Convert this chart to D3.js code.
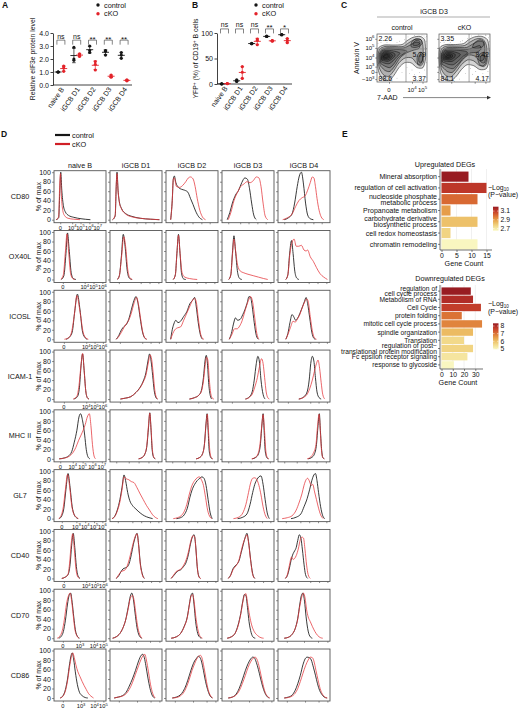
<!DOCTYPE html>
<html>
<head>
<meta charset="utf-8">
<script src="https://cdn.jsdelivr.net/npm/d3@7"></script>
<style>
body { margin: 0; background: #fff; }
text { font-family: "Liberation Sans", Arial, sans-serif; fill: #111; }
</style>
</head>
<body>
<svg id="fig" width="520" height="708"></svg>
<script>
// ---------- data ----------
var groups = ["naive B", "iGCB D1", "iGCB D2", "iGCB D3", "iGCB D4"]
var series = ["control", "cKO"]

// A: relative eIF3e protein level (3 mice per group)
var eif3eControl = [[1.0, 1.0, 1.0], [2.9, 2.0, 1.9], [3.0, 2.65, 2.5], [2.65, 2.6, 2.3], [2.5, 2.3, 2.05]]
var eif3eCKO = [[1.45, 1.3, 1.05], [2.4, 2.3, 2.2], [1.8, 1.6, 1.15], [0.77, 0.65, 0.6], [0.4, 0.35, 0.32]]
var eif3eSig = ["ns", "ns", "**", "**", "**"]

// B: YFP+ (%) of CD19+ B cells
var yfpControl = [[0.5, 0.3, 0], [8, 6, 5], [80, 79, 79], [94, 93, 93], [97, 96, 97]]
var yfpCKO = [[1, 0.5, 1], [34, 23, 11], [88, 86, 77], [85, 84, 85], [89, 85, 81]]
var yfpSig = ["ns", "ns", "ns", "**", "*"]

// C: iGCB D3 Annexin V / 7-AAD contour plots (axis channel units 0-100)
var annexTickPos = [90, 71, 51, 32, 21, 6]
var annexTickLabels = ["10^6", "10^5", "10^4", "10^3", "0", "−10^3"]
var aadTickPos = [24, 70, 91]
var aadTickLabels = ["0", "10^4", "10^5"]
var ctrlQuad = ["2.26", "5.79", "88.6", "3.37"]
var ckoQuad = ["3.35", "8.42", "84.1", "4.17"]
var ctrlGate = [58, 69]
var ckoGate = [59, 69]
var ctrlRings = [
  [[2,28],[0,50],[2,70],[14,77],[32,77],[50,78],[60,86],[72,93],[86,95],[95,88],[97,70],[97,48],[92,30],[80,30],[68,40],[55,40],[44,30],[34,14],[25,4],[14,4],[6,14]],
  [[4,32],[2,52],[5,68],[16,74],[34,74],[52,74],[64,82],[76,89],[88,88],[92,74],[92,52],[88,38],[80,38],[70,50],[56,50],[44,40],[34,24],[24,12],[14,14],[8,22]],
  [[6,36],[4,54],[8,66],[18,71],[36,71],[54,71],[66,77],[78,83],[86,80],[84,70],[72,66],[58,60],[46,50],[36,34],[26,22],[16,24],[10,30]],
  [[7,40],[6,56],[10,65],[20,69],[36,68],[52,67],[60,64],[52,58],[42,50],[34,38],[26,30],[18,32],[11,36]],
  [[8,43],[8,57],[12,64],[22,66],[36,64],[46,60],[40,53],[32,44],[24,38],[16,39],[11,41]],
  [[9,46],[10,58],[15,63],[24,63],[34,60],[36,55],[30,48],[22,43],[15,44]],
  [[10,48],[12,58],[17,61],[25,60],[31,56],[28,50],[21,46],[14,47]],
  [[12,50],[14,57],[19,59],[25,57],[26,52],[20,49],[15,49]],
  [[13,52],[16,56],[21,57],[23,53],[18,51]],
  [[68,74],[70,84],[78,90],[88,88],[90,80],[84,74],[76,72]],
  [[72,77],[74,84],[80,87],[86,84],[84,78],[78,76]],
  [[82,36],[80,48],[82,58],[88,62],[93,56],[93,42],[88,34]],
  [[84,42],[84,54],[88,58],[91,52],[90,42]]
]
var ckoRings = [
  [[2,26],[0,50],[2,72],[14,78],[32,78],[48,80],[58,88],[70,94],[84,95],[95,88],[98,70],[98,46],[93,28],[80,26],[68,34],[55,36],[44,26],[34,12],[24,3],[12,4],[5,14]],
  [[4,30],[2,52],[5,69],[16,75],[34,75],[50,76],[62,84],[74,90],[86,89],[93,76],[94,52],[90,36],[80,34],[68,44],[56,46],[44,36],[34,22],[24,11],[14,13],[8,20]],
  [[5,34],[4,54],[8,67],[18,72],[36,72],[54,72],[66,79],[78,85],[88,82],[90,66],[88,48],[80,44],[70,54],[58,56],[46,46],[36,32],[26,20],[16,22],[10,28]],
  [[6,38],[5,56],[10,66],[20,70],[38,69],[56,68],[68,72],[80,76],[82,68],[74,62],[60,60],[48,50],[38,38],[28,28],[18,30],[11,34]],
  [[7,42],[7,57],[12,65],[22,67],[38,66],[52,64],[56,60],[48,54],[38,44],[28,36],[18,37],[11,40]],
  [[9,45],[9,58],[14,63],[24,64],[36,61],[42,57],[35,50],[26,43],[17,43]],
  [[10,48],[11,58],[16,61],[25,61],[32,57],[29,50],[21,46],[14,47]],
  [[12,50],[14,57],[19,59],[26,57],[26,52],[20,49],[15,49]],
  [[14,52],[17,56],[22,56],[23,53],[18,51]],
  [[66,72],[70,82],[80,88],[88,84],[86,74],[76,70]],
  [[80,36],[76,48],[80,58],[88,62],[94,56],[94,40],[88,32]],
  [[82,42],[81,52],[87,57],[91,50],[89,40]]
]
var ctrlDots = [[96,92],[98,85],[94,96],[99,70],[97,60],[99,40],[95,25],[85,20],[70,25],[60,30],[50,20],[40,8],[30,2],[2,80],[8,82],[20,82],[40,82],[55,88],[62,94],[75,97],[90,98],[99,95],[88,12],[75,15],[65,18],[98,10],[45,85],[1,20],[3,8]]
var ckoDots = [[97,92],[99,84],[92,97],[99,66],[98,58],[99,36],[96,22],[86,18],[72,22],[62,28],[52,18],[40,6],[30,1],[3,82],[10,83],[22,82],[42,84],[56,90],[64,96],[78,98],[91,98],[99,96],[88,10],[76,12],[66,16],[98,8],[46,86],[1,18],[4,6]]

// D: flow histograms, % of max; each curve is [channel, % of max]
var markers = ["CD80", "OX40L", "ICOSL", "ICAM-1", "MHC II", "GL7", "CD40", "CD70", "CD86"]
var naiveTickLabels = [
  ["0","10^4","10^5","10^6","10^7"], ["0","10^4","10^5","10^6"], ["0","10^4","10^5","10^6"],
  ["0","10^4","10^5","10^6"], ["0","10^4","10^5","10^6","10^7"], ["0","10^3","10^4","10^5","10^6"],
  ["0","10^4","10^5","10^6"], ["0","10^3","10^4","10^5"], ["0","10^3","10^4","10^5"]]
var naiveTickPos = [
  [12,35,51,68,84], [17,59,76,93], [19,62,78,94], [19,62,78,94], [12,36,55,74,92],
  [15,43,60,77,93], [19,62,79,95], [17,50,77,95], [17,52,78,95]]

var cd80Hist = [
  [[[4,0],[9,4],[11,55],[13,100],[15,62],[18,30],[22,16],[28,9],[38,5],[52,2],[70,0]],
   [[4,0],[9,6],[11,75],[12.5,97],[14,55],[16.5,22],[20,9],[27,3],[38,1],[50,0]]],
  [[[5,0],[10,8],[12,70],[13.5,100],[15.5,62],[18,38],[22,24],[30,13],[42,7],[58,3],[78,1],[95,0]],
   [[5,0],[10,10],[12,75],[13.5,97],[15.5,60],[18,36],[22,23],[30,12],[42,6],[58,3],[78,1],[95,0]]],
  [[[9,0],[12,40],[14,85],[16,92],[19,78],[24,68],[30,64],[36,62],[42,58],[47,45],[52,32],[57,18],[63,6],[70,0]],
   [[9,0],[12,40],[14,85],[16,88],[20,70],[26,68],[32,72],[38,80],[43,88],[47,90],[52,86],[56,70],[60,45],[65,20],[70,6],[76,0]]],
  [[[10,0],[15,15],[20,35],[26,52],[32,62],[38,78],[44,88],[49,85],[53,65],[57,35],[61,10],[66,0]],
   [[12,0],[17,15],[23,40],[30,58],[36,70],[42,75],[48,80],[54,78],[60,82],[66,90],[71,88],[75,70],[79,35],[83,8],[88,0]]],
  [[[12,0],[20,4],[27,12],[32,35],[37,70],[41,92],[45,100],[49,75],[53,35],[57,10],[62,2],[68,0]],
   [[9,0],[18,4],[27,12],[34,28],[40,40],[46,46],[52,50],[57,62],[62,78],[66,90],[69,88],[72,70],[75,45],[79,20],[83,6],[88,0]]]]
var ox40lHist = [
  [[[14,0],[19,8],[23,55],[26,98],[29,65],[33,15],[37,2],[42,0]],
   [[13,0],[18,10],[22,60],[25,96],[28,60],[32,12],[36,2],[40,0]]],
  [[[14,0],[18,8],[22,50],[25.5,95],[29,70],[33,20],[37,3],[42,0]],
   [[14,0],[18,8],[22,45],[26.5,90],[30,70],[34,22],[38,4],[43,0]]],
  [[[14,0],[18,10],[21,55],[24,95],[27,55],[30,12],[34,1],[38,0]],
   [[14,0],[18,10],[21,55],[24,93],[27,55],[31,14],[36,5],[45,2],[60,0]]],
  [[[13,0],[17,10],[20,55],[23,92],[26,60],[30,15],[34,2],[38,0]],
   [[13,0],[17,10],[20,50],[23,85],[26,62],[30,30],[35,18],[42,14],[50,11],[60,8],[70,5],[80,2],[88,0]]],
  [[[15,0],[19,10],[22,50],[26,82],[29,55],[32,20],[36,3],[40,0]],
   [[15,0],[19,10],[23,55],[27,78],[31,85],[35,70],[40,70],[45,72],[50,62],[54,60],[57,62],[62,48],[68,38],[74,25],[81,12],[88,5],[95,0]]]]
var icoslHist = [
  [[[23,0],[30,5],[35,15],[40,60],[45,95],[50,62],[55,15],[60,3],[64,0]],
   [[20,0],[28,3],[33,12],[39,50],[44,92],[50,58],[56,15],[61,3],[66,0]]],
  [[[12,0],[17,8],[22,20],[27,27],[32,32],[36,42],[41,62],[45,78],[50,90],[54,75],[58,45],[62,18],[66,4],[70,0]],
   [[12,0],[17,6],[22,15],[27,25],[31,32],[36,40],[41,55],[46,75],[51,88],[55,72],[59,42],[63,15],[67,3],[71,0]]],
  [[[9,0],[12,20],[15,32],[19,40],[23,35],[28,38],[34,48],[40,58],[46,75],[51,82],[55,88],[58,70],[62,35],[66,10],[70,0]],
   [[9,0],[13,12],[17,20],[22,24],[28,26],[34,40],[40,55],[46,70],[51,82],[55,86],[58,80],[62,45],[66,14],[70,2],[73,0]]],
  [[[14,0],[18,12],[22,32],[26,45],[30,40],[35,42],[40,52],[44,62],[48,75],[52,90],[55,88],[58,70],[62,35],[66,8],[70,0]],
   [[14,0],[19,10],[24,22],[29,22],[34,28],[39,40],[43,55],[47,70],[51,82],[55,90],[59,78],[63,45],[67,12],[71,0]]],
  [[[15,0],[19,12],[23,35],[27,52],[30,48],[34,40],[38,45],[43,57],[47,68],[51,80],[54,88],[57,75],[61,45],[65,15],[69,2],[72,0]],
   [[15,0],[19,10],[24,25],[29,38],[33,36],[37,42],[42,52],[47,68],[52,80],[55,85],[58,80],[62,48],[66,18],[70,3],[74,0]]]]
var icam1Hist = [
  [[[38,0],[45,5],[49,25],[52,70],[55,95],[58,60],[61,18],[64,3],[67,0]],
   [[37,0],[44,6],[48,28],[52,72],[55,96],[58,60],[61,18],[64,3],[67,0]]],
  [[[20,0],[30,2],[40,5],[50,14],[58,25],[64,38],[69,55],[73,80],[76,95],[79,80],[82,50],[85,18],[88,4],[91,0]],
   [[20,0],[30,2],[40,5],[50,14],[58,24],[64,36],[69,50],[74,78],[77,93],[80,84],[83,55],[86,20],[89,4],[92,0]]],
  [[[45,0],[55,3],[63,8],[68,18],[72,45],[75,80],[77.5,92],[80,70],[82,35],[85,8],[88,0]],
   [[45,0],[55,3],[63,8],[68,16],[72,38],[75,68],[78,88],[80.5,82],[83,45],[86,12],[89,2],[92,0]]],
  [[[45,0],[53,5],[58,15],[62,40],[66,75],[69,90],[72,78],[75,40],[79,10],[83,0]],
   [[45,0],[53,4],[58,10],[63,25],[68,45],[72,68],[76,85],[79,75],[82,45],[85,15],[88,3],[91,0]]],
  [[[40,0],[50,5],[56,15],[60,40],[63,75],[66,90],[69,80],[72,45],[75,15],[79,3],[83,0]],
   [[40,0],[50,4],[56,10],[61,22],[66,40],[70,58],[74,75],[77,82],[80,65],[83,35],[86,10],[90,0]]]]
var mhc2Hist = [
  [[[10,0],[20,2],[28,6],[34,15],[39,35],[44,60],[48,88],[51,95],[55,80],[59,50],[62,20],[65,5],[69,0]],
   [[10,0],[22,2],[30,6],[37,14],[42,24],[47,38],[52,50],[56,60],[60,72],[64,88],[68,95],[71,70],[74,30],[77,6],[80,0]]],
  [[[55,0],[62,3],[67,10],[71,28],[74,65],[76.5,97],[79,60],[81,20],[84,3],[87,0]],
   [[55,0],[62,3],[67,10],[71,30],[74,70],[76.5,96],[79,62],[81.5,20],[84,4],[87,0]]],
  [[[58,0],[65,3],[70,10],[74,32],[77,75],[79,95],[81,60],[83,18],[86,3],[89,0]],
   [[58,0],[65,3],[70,10],[74,30],[77,72],[79.5,94],[81.5,62],[84,20],[87,3],[90,0]]],
  [[[58,0],[65,3],[70,10],[74,32],[77,75],[79,95],[81,60],[83,18],[86,3],[89,0]],
   [[57,0],[64,3],[69,10],[73,30],[76.5,70],[79,93],[81.5,64],[84,20],[87,3],[90,0]]],
  [[[58,0],[65,3],[70,10],[74,30],[77,70],[79.5,95],[81.5,60],[84,18],[86,3],[89,0]],
   [[56,0],[63,4],[68,12],[73,30],[76,68],[79,94],[81,65],[83.5,20],[86,3],[89,0]]]]
var gl7Hist = [
  [[[10,0],[15,6],[19,22],[23,62],[27,95],[31,65],[35,25],[39,8],[43,2],[46,0]],
   [[9,0],[14,7],[18,25],[22,62],[26,93],[30,68],[34,28],[38,10],[43,3],[47,0]]],
  [[[4,0],[9,5],[14,18],[19,40],[23,65],[27,92],[30,80],[34,55],[38,38],[43,28],[50,20],[58,12],[66,6],[75,2],[82,0]],
   [[4,0],[9,4],[14,16],[19,35],[23,60],[27,88],[31,84],[36,82],[41,78],[46,76],[52,65],[58,52],[64,40],[70,28],[76,18],[82,8],[88,2],[92,0]]],
  [[[20,0],[28,2],[35,8],[41,22],[46,45],[50,60],[55,72],[60,80],[65,85],[69,88],[73,85],[77,70],[81,40],[85,12],[89,0]],
   [[14,0],[22,2],[29,6],[35,15],[40,30],[45,52],[50,70],[55,80],[60,86],[64,88],[68,82],[72,70],[76,45],[80,18],[85,3],[88,0]]],
  [[[30,0],[40,3],[48,10],[54,30],[59,55],[63,72],[67,82],[71,88],[75,90],[79,72],[83,40],[87,12],[91,0]],
   [[22,0],[32,3],[40,12],[46,30],[51,55],[55,75],[59,85],[63,86],[67,82],[71,70],[75,50],[79,25],[83,8],[87,0]]],
  [[[25,0],[35,3],[44,10],[50,25],[56,42],[61,62],[65,80],[69,92],[72,95],[75,80],[78,55],[82,25],[86,6],[90,0]],
   [[8,0],[18,2],[27,6],[35,18],[41,35],[46,52],[50,70],[54,82],[57,85],[60,80],[64,70],[67,72],[70,58],[74,40],[78,22],[82,8],[87,0]]]]
var cd40Hist = [
  [[[15,0],[22,3],[27,8],[31,30],[34,70],[37,95],[40,65],[43,25],[46,6],[50,0]],
   [[15,0],[22,3],[27,9],[30,32],[33,72],[36,94],[39,62],[42,22],[45,5],[49,0]]],
  [[[12,0],[17,6],[21,14],[25,20],[29,22],[33,24],[37,32],[41,50],[45,72],[49,88],[52,95],[55,72],[58,35],[62,10],[66,0]],
   [[12,0],[17,8],[21,14],[25,16],[29,18],[33,26],[37,40],[41,58],[45,76],[49,90],[52,94],[55,70],[58,32],[62,8],[66,0]]],
  [[[10,0],[14,5],[18,10],[23,16],[28,18],[33,24],[38,32],[43,50],[47,72],[51,88],[54,92],[57,70],[60,25],[63,5],[66,0]],
   [[10,0],[14,6],[19,14],[24,17],[29,20],[34,28],[39,40],[44,60],[48,80],[52,90],[55,88],[58,55],[61,15],[64,2],[67,0]]],
  [[[12,0],[17,8],[21,20],[25,26],[29,30],[33,38],[37,55],[41,72],[45,88],[48,95],[51,78],[55,40],[59,10],[63,0]],
   [[12,0],[17,7],[21,18],[25,24],[29,30],[33,40],[37,58],[41,75],[45,86],[48,92],[51,76],[55,38],[59,8],[63,0]]],
  [[[14,0],[18,6],[22,22],[26,42],[29,52],[32,58],[35,65],[38,80],[41,92],[44,85],[47,60],[50,30],[53,8],[57,0]],
   [[14,0],[18,8],[22,28],[26,45],[29,40],[32,42],[35,48],[39,62],[43,82],[46,87],[49,85],[52,60],[55,28],[58,8],[62,0]]]]
var cd70Hist = [
  [[[9,0],[14,4],[18,14],[22,38],[26,72],[29,90],[32,95],[35,75],[38,45],[41,18],[45,4],[49,0]],
   [[6,0],[11,4],[16,16],[20,40],[24,72],[28,90],[31,95],[34,78],[37,48],[40,20],[44,5],[48,0]]],
  [[[5,0],[12,3],[19,10],[25,22],[30,38],[35,65],[39,88],[42,95],[45,82],[48,55],[52,22],[56,6],[61,0]],
   [[5,0],[12,3],[19,10],[25,22],[30,38],[35,62],[39,84],[43,90],[46,82],[49,58],[53,26],[57,8],[62,0]]],
  [[[10,0],[20,3],[28,10],[35,25],[41,45],[45,72],[48,90],[51,95],[54,70],[57,35],[61,10],[65,2],[68,0]],
   [[10,0],[20,3],[28,10],[35,24],[41,44],[45,70],[48,88],[51,92],[54,78],[57,48],[61,20],[65,5],[70,0]]],
  [[[10,0],[18,3],[25,10],[31,28],[36,52],[40,78],[43,92],[46,90],[49,65],[52,35],[56,12],[60,2],[64,0]],
   [[10,0],[18,3],[25,10],[31,26],[36,50],[40,76],[43,90],[46,94],[49,75],[53,48],[57,28],[62,14],[68,6],[75,1],[80,0]]],
  [[[12,0],[20,2],[27,8],[33,20],[38,42],[42,72],[45,90],[48,95],[51,78],[54,45],[58,15],[62,3],[66,0]],
   [[12,0],[20,2],[27,8],[33,20],[38,40],[42,68],[46,88],[49,95],[52,85],[55,60],[58,45],[62,35],[66,25],[71,14],[76,6],[82,1],[86,0]]]]
var cd86Hist = [
  [[[12,0],[18,6],[22,18],[26,40],[30,72],[33,90],[35,95],[38,80],[41,55],[45,28],[49,12],[54,5],[60,1],[65,0]],
   [[12,0],[18,5],[22,15],[26,36],[30,66],[33,85],[36,95],[39,85],[42,70],[46,55],[50,45],[54,35],[58,26],[62,18],[66,10],[71,4],[76,0]]],
  [[[8,0],[16,2],[24,5],[31,12],[37,25],[43,40],[49,58],[55,78],[60,90],[63,92],[66,85],[69,68],[73,42],[77,20],[81,6],[86,0]],
   [[8,0],[16,2],[24,4],[31,9],[37,18],[43,32],[49,50],[55,68],[60,82],[64,90],[67,92],[70,80],[74,55],[78,28],[82,10],[87,0]]],
  [[[12,0],[20,2],[27,6],[33,14],[39,28],[45,48],[50,65],[55,78],[59,84],[62,88],[65,86],[68,78],[72,58],[76,35],[80,18],[84,6],[89,0]],
   [[12,0],[20,1],[27,4],[33,10],[39,22],[45,40],[50,58],[55,72],[59,82],[63,88],[66,90],[69,85],[73,65],[77,40],[81,18],[85,6],[90,0]]],
  [[[12,0],[20,2],[27,8],[33,20],[39,38],[45,58],[50,72],[55,82],[59,86],[62,85],[66,75],[70,60],[74,42],[78,25],[82,12],[86,4],[91,0]],
   [[12,0],[20,2],[27,6],[33,15],[39,30],[45,48],[50,64],[55,76],[60,84],[64,86],[67,82],[71,68],[75,48],[79,28],[83,12],[87,4],[92,0]]],
  [[[12,0],[20,2],[27,6],[33,16],[38,30],[43,48],[48,70],[52,82],[56,86],[60,85],[64,80],[68,65],[72,48],[76,30],[80,16],[84,8],[89,2],[94,0]],
   [[12,0],[20,1],[27,4],[33,10],[38,20],[43,35],[48,52],[53,68],[58,80],[62,86],[66,85],[69,78],[73,58],[77,38],[81,20],[85,9],[90,2],[95,0]]]]
var histograms = [cd80Hist, ox40lHist, icoslHist, icam1Hist, mhc2Hist, gl7Hist, cd40Hist, cd70Hist, cd86Hist]

// E: GO / KEGG enrichment
var upTerms = ["Mineral absorption", "regulation of cell activation", "nucleoside phosphate\nmetabolic process",
  "Propanoate metabolism", "carbohydrate derivative\nbiosynthetic process", "cell redox homeostasis", "chromatin remodeling"]
var upCounts = [9, 15, 12, 3, 12, 3, 12]
var upLogP = [3.2, 3.11, 3.0, 2.9, 2.82, 2.77, 2.65]
var downTerms = ["regulation of\ncell cycle process", "Metabolism of RNA", "Cell Cycle", "protein folding",
  "mitotic cell cycle process", "spindle organization", "Translation",
  "regulation of post−\ntranslational protein modification", "Fc epsilon receptor signaling", "response to glycoside"]
var downCounts = [26, 28, 35, 18, 36, 28, 20, 28, 23, 11]
var downLogP = [8.35, 8.0, 7.7, 7.0, 6.8, 6.1, 5.6, 5.7, 5.35, 4.95]

// ---------- drawing ----------
var svg = d3.select("#fig")
var black = "#161616", red = "#e3232a", histRed = "#e5373c"

function powLabel(sel, lab, fs) {
  var parts = lab.split("^")
  sel.text(parts[0])
  if (parts[1]) sel.append("tspan").attr("dy", -fs * 0.42).attr("font-size", fs * 0.72).text(parts[1])
}

// panel letters
var letters = [["A", 2, 8], ["B", 192, 8], ["C", 341, 8], ["D", 1, 137], ["E", 342, 137]]
svg.selectAll(".letter").data(letters).join("text")
  .attr("x", d => d[1]).attr("y", d => d[2])
  .attr("font-size", 8.5).attr("font-weight", "bold").text(d => d[0])

// ---- A & B: dot plots with mean ± SD ----
function stripPlot(cfg) {
  var g = svg.append("g")
  var x = d3.scalePoint().domain(groups).range([cfg.left, cfg.right]).padding(0.5)
  var off = d3.scalePoint().domain(series).range([-2.8, 2.8])
  var y = d3.scaleLinear().domain(cfg.domain).range([cfg.bottom, cfg.top])

  var ax = g.append("g").attr("transform", `translate(${cfg.left},0)`)
    .call(d3.axisLeft(y).tickValues(cfg.ticks).tickSize(2.5).tickSizeOuter(0).tickPadding(1.5))
  ax.attr("font-size", 7)
  ax.selectAll("line,path").attr("stroke", "#111").attr("stroke-width", 0.8)
  g.append("line").attr("x1", cfg.left).attr("x2", cfg.right)
    .attr("y1", y(cfg.domain[0])).attr("y2", y(cfg.domain[0]))
    .attr("stroke", "#111").attr("stroke-width", 0.8)

  g.selectAll(".xl").data(groups).join("text")
    .attr("transform", d => `translate(${x(d) + 1.5},${cfg.bottom + 3}) rotate(-55)`)
    .attr("text-anchor", "end").attr("dy", "0.35em").attr("font-size", 7).text(d => d)

  var title = g.append("text")
    .attr("transform", `translate(${cfg.titleX},${(cfg.top + cfg.bottom) / 2}) rotate(-90)`)
    .attr("text-anchor", "middle").attr("font-size", 6.8)
  cfg.title.forEach(function (t) {
    var ts = title.append("tspan").text(t[0])
    if (t[1]) ts.attr("font-size", 4.8).attr("dy", -2.5)
    else if (title.selectAll("tspan").size() > 1) ts.attr("dy", 2.5)
  })

  groups.forEach(function (grp, i) {
    [cfg.ctrl[i], cfg.cko[i]].forEach(function (vals, s) {
      var cx = x(grp) + off(series[s])
      var col = s ? red : black
      var m = d3.mean(vals), sd = d3.deviation(vals)
      g.append("line").attr("x1", cx).attr("x2", cx).attr("y1", y(m - sd)).attr("y2", y(m + sd))
        .attr("stroke", col).attr("stroke-width", 0.7)
      ;[m - sd, m + sd].forEach(function (v) {
        g.append("line").attr("x1", cx - 1.8).attr("x2", cx + 1.8).attr("y1", y(v)).attr("y2", y(v))
          .attr("stroke", col).attr("stroke-width", 0.7)
      })
      g.append("line").attr("x1", cx - 3.5).attr("x2", cx + 3.5).attr("y1", y(m)).attr("y2", y(m))
        .attr("stroke", col).attr("stroke-width", 0.9)
      g.selectAll(null).data(vals).join("circle")
        .attr("cx", cx).attr("cy", d => y(d)).attr("r", 1.55).attr("fill", col)
    })
    var by = y(cfg.bracket)
    g.append("path").attr("d", `M${x(grp) - 4},${by + 4.5}V${by}H${x(grp) + 4}V${by + 4.5}`)
      .attr("fill", "none").attr("stroke", "#333").attr("stroke-width", 0.6)
    var sig = cfg.sig[i]
    g.append("text").attr("x", x(grp)).attr("y", sig === "ns" ? by - 1.5 : by + 1.5)
      .attr("text-anchor", "middle").attr("font-size", sig === "ns" ? 7 : 8).text(sig)
  })

  // legend
  series.forEach(function (s, k) {
    g.append("circle").attr("cx", cfg.legX).attr("cy", 5 + k * 8.8).attr("r", 1.7).attr("fill", k ? red : black)
    g.append("text").attr("x", cfg.legX + 6).attr("y", 7.6 + k * 8.8).attr("font-size", 7.3).text(s)
  })
}

stripPlot({ left: 53, right: 132, bottom: 85, top: 33, domain: [0, 4], ticks: [0, 1, 2, 3, 4],
  ctrl: eif3eControl, cko: eif3eCKO, sig: eif3eSig, bracket: 3.45, titleX: 35,
  title: [["Relative eIF3e protein level"]], legX: 98 })
stripPlot({ left: 217, right: 292, bottom: 84, top: 33, domain: [0, 100], ticks: [0, 50, 100],
  ctrl: yfpControl, cko: yfpCKO, sig: yfpSig, bracket: 108, titleX: 198,
  title: [["YFP"], ["+", 1], [" (%) of CD19"], ["+", 1], [" B cells"]], legX: 256 })

// ---- C: contour plots ----
var cg = svg.append("g")
cg.append("text").attr("x", 434).attr("y", 13.5).attr("text-anchor", "middle").attr("font-size", 7).text("iGCB D3")
cg.append("line").attr("x1", 377).attr("x2", 490).attr("y1", 17).attr("y2", 17).attr("stroke", "#777").attr("stroke-width", 0.6)
var cPlots = [
  { name: "control", x0: 377, x1: 427, rings: ctrlRings, dots: ctrlDots, quad: ctrlQuad, gate: ctrlGate, labels: true },
  { name: "cKO", x0: 439, x1: 490, rings: ckoRings, dots: ckoDots, quad: ckoQuad, gate: ckoGate, labels: false }]
cPlots.forEach(function (p) {
  var x = d3.scaleLinear().domain([0, 100]).range([p.x0, p.x1])
  var y = d3.scaleLinear().domain([0, 100]).range([82, 34])
  cg.append("text").attr("x", (p.x0 + p.x1) / 2).attr("y", 30).attr("text-anchor", "middle").attr("font-size", 7).text(p.name)
  cg.selectAll(null).data(p.dots).join("circle")
    .attr("cx", d => x(d[0])).attr("cy", d => y(d[1])).attr("r", 0.45).attr("fill", "#9a9a9a")
  var ring = d3.line().x(d => x(d[0])).y(d => y(d[1])).curve(d3.curveCardinalClosed.tension(0.2))
  cg.selectAll(null).data(p.rings).join("path").attr("d", ring)
    .attr("fill", "rgba(0,0,0,0.17)").attr("stroke", "#111").attr("stroke-width", 0.55)
  cg.append("line").attr("x1", x(p.gate[0])).attr("x2", x(p.gate[0])).attr("y1", 34).attr("y2", 82)
    .attr("stroke", "#888").attr("stroke-width", 0.7)
  cg.append("line").attr("x1", p.x0).attr("x2", p.x1).attr("y1", y(p.gate[1])).attr("y2", y(p.gate[1]))
    .attr("stroke", "#888").attr("stroke-width", 0.7)
  cg.append("rect").attr("x", p.x0).attr("y", 34).attr("width", p.x1 - p.x0).attr("height", 48)
    .attr("fill", "none").attr("stroke", "#555").attr("stroke-width", 0.7)
  var qpos = [[p.x0 + 1.5, 40.5, "start"], [p.x1 - 1, 56.5, "end"], [p.x0 + 1.5, 80.5, "start"], [p.x1 - 1, 80.5, "end"]]
  p.quad.forEach(function (v, k) {
    cg.append("text").attr("x", qpos[k][0]).attr("y", qpos[k][1]).attr("text-anchor", qpos[k][2])
      .attr("font-size", 7).text(v)
  })
  var ay = cg.append("g").attr("transform", `translate(${p.x0},0)`)
    .call(d3.axisLeft(y).tickValues(annexTickPos).tickSize(1.8).tickFormat(""))
  ay.select(".domain").remove()
  ay.selectAll("line").attr("stroke", "#333").attr("stroke-width", 0.5)
  var axb = cg.append("g").attr("transform", "translate(0,82)")
    .call(d3.axisBottom(x).tickValues(aadTickPos).tickSize(1.8).tickFormat(""))
  axb.select(".domain").remove()
  axb.selectAll("line").attr("stroke", "#333").attr("stroke-width", 0.5)
  if (p.labels) {
    annexTickPos.forEach(function (v, k) {
      powLabel(cg.append("text").attr("x", p.x0 - 2.5).attr("y", y(v) + 2).attr("text-anchor", "end").attr("font-size", 6),
        annexTickLabels[k], 6)
    })
    aadTickPos.forEach(function (v, k) {
      powLabel(cg.append("text").attr("x", x(v)).attr("y", 91.5).attr("text-anchor", "middle").attr("font-size", 6),
        aadTickLabels[k], 6)
    })
  }
})
cg.append("text").attr("transform", "translate(359,58) rotate(-90)").attr("text-anchor", "middle")
  .attr("font-size", 7).text("Annexin V")
cg.append("text").attr("x", 377).attr("y", 100).attr("font-size", 7).text("7-AAD")
cg.append("line").attr("x1", 403).attr("x2", 488).attr("y1", 97.6).attr("y2", 97.6).attr("stroke", "#333").attr("stroke-width", 0.6)
cg.append("path").attr("d", "M487,95.8L491,97.6L487,99.4Z").attr("fill", "#333")

// ---- D: histogram overlays ----
var dg = svg.append("g")
dg.append("line").attr("x1", 55).attr("x2", 70).attr("y1", 135).attr("y2", 135).attr("stroke", black).attr("stroke-width", 2.2)
dg.append("text").attr("x", 72).attr("y", 137.6).attr("font-size", 7.3).text("control")
dg.append("line").attr("x1", 55).attr("x2", 70).attr("y1", 144).attr("y2", 144).attr("stroke", "#d01f26").attr("stroke-width", 2.2)
dg.append("text").attr("x", 72).attr("y", 146.6).attr("font-size", 7.3).text("cKO")

var colBand = d3.scaleBand().domain(groups).range([54, 330]).paddingInner(4 / 56)
var rowBand = d3.scaleBand().domain(markers).range([170.7, 701]).paddingInner(7.8 / 59.8)
var bw = colBand.bandwidth(), bh = rowBand.bandwidth()

dg.selectAll(".colh").data(groups).join("text")
  .attr("x", d => colBand(d) + bw / 2).attr("y", 167.5).attr("text-anchor", "middle").attr("font-size", 7.2).text(d => d)

markers.forEach(function (m, i) {
  var by = rowBand(m)
  dg.append("text").attr("x", 20).attr("y", by + bh / 2 + 2.5).attr("text-anchor", "middle").attr("font-size", 7.2).text(m)
  dg.append("text").attr("transform", `translate(40.5,${by + bh / 2}) rotate(-90)`).attr("text-anchor", "middle")
    .attr("font-size", 7).text("% of max")
  groups.forEach(function (grp, j) {
    var bx = colBand(grp)
    var hx = d3.scaleLinear().domain([0, 100]).range([bx, bx + bw])
    var hy = d3.scaleLinear().domain([0, 100]).range([by + bh - 3, by + 1.5])
    var cell = dg.append("g")
    var ya = cell.append("g").attr("transform", `translate(${bx},0)`)
      .call(d3.axisLeft(hy).tickValues([0, 20, 40, 60, 80, 100]).tickSize(2).tickPadding(1.2)
        .tickFormat(j === 0 ? d3.format("d") : ""))
    ya.attr("font-size", 7)
    ya.select(".domain").remove()
    ya.selectAll("line").attr("stroke", "#444").attr("stroke-width", 0.6)
    var xa = cell.append("g").attr("transform", `translate(0,${by + bh})`)
      .call(d3.axisBottom(hx).tickValues(naiveTickPos[i]).tickSize(1.6).tickFormat(""))
    xa.select(".domain").remove()
    xa.selectAll("line").attr("stroke", "#444").attr("stroke-width", 0.6)
    if (j === 0) {
      naiveTickPos[i].forEach(function (v, k) {
        powLabel(cell.append("text").attr("x", hx(v)).attr("y", by + bh + 7).attr("text-anchor", "middle").attr("font-size", 5.7),
          naiveTickLabels[i][k], 5.7)
      })
    }
    var line = d3.line().x(d => hx(d[0])).y(d => hy(d[1])).curve(d3.curveMonotoneX)
    cell.append("path").attr("d", line(histograms[i][j][0])).attr("fill", "none").attr("stroke", black).attr("stroke-width", 0.85)
    cell.append("path").attr("d", line(histograms[i][j][1])).attr("fill", "none").attr("stroke", histRed)
      .attr("stroke-width", 0.85).attr("stroke-opacity", 0.9)
    cell.append("rect").attr("x", bx).attr("y", by).attr("width", bw).attr("height", bh)
      .attr("fill", "none").attr("stroke", "#555").attr("stroke-width", 0.9)
  })
})

// ---- E: enrichment bar charts ----
var goInterp = d3.interpolateRgbBasis(["#f9f6c0", "#f2da87", "#e9ae50", "#dd7433", "#c83a2b", "#981c22"])
var gradId = 0
function goPanel(cfg) {
  var g = svg.append("g")
  var y = d3.scaleBand().domain(cfg.terms).range([cfg.top, cfg.bottom]).paddingInner(0.1).paddingOuter(0.05)
  var x = d3.scaleLinear().domain([0, cfg.xmax]).range([cfg.zero, cfg.xAt])
  var color = d3.scaleSequential(goInterp).domain(cfg.cdomain)

  g.append("text").attr("x", cfg.titleX).attr("y", cfg.titleY).attr("text-anchor", "middle").attr("font-size", 7.2).text(cfg.title)
  g.selectAll(".grid").data(cfg.ticks).join("line")
    .attr("x1", d => x(d)).attr("x2", d => x(d)).attr("y1", cfg.top - 2).attr("y2", cfg.bottom)
    .attr("stroke", "#e6e6e6").attr("stroke-width", 0.6)
  g.selectAll(".bar").data(cfg.terms).join("rect")
    .attr("x", x(0)).attr("y", d => y(d)).attr("height", y.bandwidth())
    .attr("width", (d, i) => x(cfg.counts[i]) - x(0))
    .attr("fill", (d, i) => color(cfg.logp[i]))
  g.append("path").attr("d", `M${cfg.axisX},${cfg.top - 2}V${cfg.bottom}H${cfg.right}`)
    .attr("fill", "none").attr("stroke", "#333").attr("stroke-width", 0.7)
  var xa = g.append("g").attr("transform", `translate(0,${cfg.bottom})`)
    .call(d3.axisBottom(x).tickValues(cfg.ticks).tickSize(2).tickPadding(1))
  xa.attr("font-size", 6.8)
  xa.select(".domain").remove()
  xa.selectAll("line").attr("stroke", "#333").attr("stroke-width", 0.6)
  g.append("text").attr("x", cfg.labelX).attr("y", cfg.bottom + 15.5).attr("text-anchor", "middle").attr("font-size", 7.2).text("Gene Count")

  cfg.terms.forEach(function (t) {
    var cy = y(t) + y.bandwidth() / 2
    g.append("line").attr("x1", cfg.axisX - 2).attr("x2", cfg.axisX).attr("y1", cy).attr("y2", cy)
      .attr("stroke", "#333").attr("stroke-width", 0.6)
    var lines = t.split("\n")
    var txt = g.append("text").attr("text-anchor", "end").attr("font-size", cfg.labelSize)
    lines.forEach(function (l, k) {
      txt.append("tspan").attr("x", cfg.axisX - 3)
        .attr("y", cy + cfg.labelSize * 0.36 + (k - (lines.length - 1) / 2) * cfg.lineGap).text(l)
    })
  })

  // colour legend
  var id = "grad" + (gradId++)
  var grad = svg.append("defs").append("linearGradient").attr("id", id)
    .attr("x1", 0).attr("x2", 0).attr("y1", 1).attr("y2", 0)
  d3.range(0, 1.0001, 0.1).forEach(function (t) {
    grad.append("stop").attr("offset", t).attr("stop-color", goInterp(t))
  })
  var ly = d3.scaleLinear().domain(cfg.cdomain).range([cfg.legBottom, cfg.legTop])
  var lt = g.append("text").attr("x", 488).attr("y", cfg.legTop - 17).attr("font-size", 7)
  lt.append("tspan").text("−Log")
  lt.append("tspan").attr("font-size", 4.6).attr("dy", 1.4).text("10")
  g.append("text").attr("x", 488).attr("y", cfg.legTop - 9.5).attr("font-size", 7).text("(P−value)")
  g.append("rect").attr("x", 493).attr("y", cfg.legTop).attr("width", 5.5).attr("height", cfg.legBottom - cfg.legTop)
    .attr("fill", `url(#${id})`)
  cfg.legTicks.forEach(function (v) {
    g.append("line").attr("x1", 493).attr("x2", 494.5).attr("y1", ly(v)).attr("y2", ly(v)).attr("stroke", "#fff").attr("stroke-width", 0.5)
    g.append("line").attr("x1", 497).attr("x2", 498.5).attr("y1", ly(v)).attr("y2", ly(v)).attr("stroke", "#fff").attr("stroke-width", 0.5)
    g.append("text").attr("x", 500.5).attr("y", ly(v) + 2.4).attr("font-size", 6.8).text(cfg.legFormat(v))
  })
}

goPanel({ terms: upTerms, counts: upCounts, logp: upLogP, top: 171, bottom: 250, xmax: 15, zero: 441.5, xAt: 486.5,
  axisX: 440, right: 492, ticks: [0, 5, 10, 15], cdomain: [2.65, 3.2], title: "Upregulated DEGs", titleX: 445, titleY: 166.5,
  labelX: 464, labelSize: 7, lineGap: 6.2,
  legTop: 206.7, legBottom: 230.7, legTicks: [2.7, 2.9, 3.1], legFormat: d3.format(".1f") })
goPanel({ terms: downTerms, counts: downCounts, logp: downLogP, top: 287, bottom: 369, xmax: 30, zero: 441.5, xAt: 475.3,
  axisX: 440, right: 483, ticks: [0, 10, 20, 30], cdomain: [4.95, 8.35], title: "Downregulated DEGs", titleX: 450, titleY: 280.5,
  labelX: 458, labelSize: 6.7, lineGap: 5.6,
  legTop: 323.3, legBottom: 349.3, legTicks: [5, 6, 7, 8], legFormat: d3.format("d") })
</script>
</body>
</html>
